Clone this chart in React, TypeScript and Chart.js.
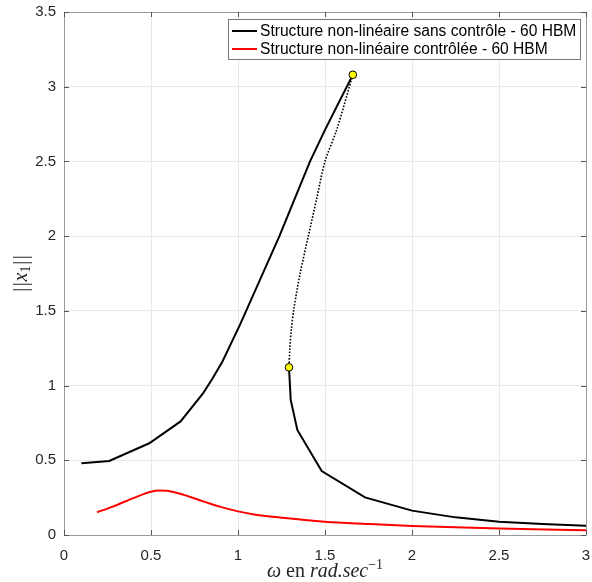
import React, { useEffect, useRef } from "react";
import { Chart, registerables } from "chart.js";

Chart.register(...registerables);

// ---- data ----
const omegaUpper = [0.1, 0.26, 0.49, 0.67, 0.8, 0.85, 0.91, 1.011, 1.238, 1.414, 1.5, 1.66];
const ampUpper = [0.48, 0.495, 0.614, 0.76, 0.95, 1.04, 1.16, 1.406, 2.0, 2.5, 2.711, 3.08];

const omegaUnstable = [1.66, 1.567, 1.5, 1.452, 1.404, 1.357, 1.322, 1.306, 1.298, 1.293];
const ampUnstable = [3.08, 2.711, 2.5, 2.25, 2.0, 1.75, 1.52, 1.37, 1.25, 1.122];

const omegaLower = [1.293, 1.303, 1.341, 1.481, 1.73, 2.0, 2.25, 2.5, 2.75, 3.0];
const ampLower = [1.122, 0.904, 0.703, 0.428, 0.252, 0.163, 0.118, 0.089, 0.073, 0.062];

const omegaCtrl = [0.19, 0.28, 0.42, 0.5, 0.55, 0.63, 0.8, 0.9, 1.0, 1.1, 1.24, 1.5, 1.74, 2.0, 2.5, 3.0];
const ampCtrl = [0.152, 0.19, 0.257, 0.29, 0.297, 0.288, 0.225, 0.188, 0.158, 0.136, 0.117, 0.089, 0.074, 0.06, 0.043, 0.031];

const omegaFold = [1.66, 1.293];
const ampFold = [3.08, 1.122];

const legendLabels = [
  "Structure non-linéaire sans contrôle - 60 HBM",
  "Structure non-linéaire contrôlée - 60 HBM",
];
const legendColors = ["#000000", "#ff0000"];

const xMin = 0, xMax = 3, xStep = 0.5;
const yMin = 0, yMax = 3.5, yStep = 0.5;

const pts = (xs: number[], ys: number[]) => xs.map((x, i) => ({ x, y: ys[i] }));

const SANS = "'Liberation Sans', Arial, Helvetica, sans-serif";
const SERIF = "'Liberation Serif', 'Times New Roman', serif";

const framePlugin = {
  id: "frame",
  afterDatasetsDraw(chart: any) {
    const { ctx, chartArea: a, scales } = chart;
    const xs = scales.x, ys = scales.y;
    ctx.save();
    // box
    ctx.strokeStyle = "#9a9a9a";
    ctx.lineWidth = 1;
    ctx.beginPath();
    ctx.rect(Math.round(a.left) + 0.5, Math.round(a.top) + 0.5, Math.round(a.right - a.left), Math.round(a.bottom - a.top));
    ctx.stroke();
    // inward ticks
    ctx.strokeStyle = "#555555";
    ctx.beginPath();
    for (let v = xMin; v <= xMax + 1e-9; v += xStep) {
      const px = Math.round(xs.getPixelForValue(v)) + 0.5;
      ctx.moveTo(px, a.bottom);
      ctx.lineTo(px, a.bottom - 5);
      ctx.moveTo(px, a.top);
      ctx.lineTo(px, a.top + 5);
    }
    for (let v = yMin; v <= yMax + 1e-9; v += yStep) {
      const py = Math.round(ys.getPixelForValue(v)) + 0.5;
      ctx.moveTo(a.left, py);
      ctx.lineTo(a.left + 5, py);
      ctx.moveTo(a.right, py);
      ctx.lineTo(a.right - 5, py);
    }
    ctx.stroke();

    // legend
    const lx = 228, ly = 19, lw = 352, lh = 40;
    ctx.fillStyle = "#ffffff";
    ctx.fillRect(lx, ly, lw, lh);
    ctx.strokeStyle = "#7a7a7a";
    ctx.strokeRect(lx + 0.5, ly + 0.5, lw, lh);
    ctx.font = `15.6px ${SANS}`;
    ctx.textBaseline = "middle";
    ctx.textAlign = "left";
    legendLabels.forEach((lab, i) => {
      const yy = ly + 12 + i * 18;
      ctx.strokeStyle = legendColors[i];
      ctx.lineWidth = 2;
      ctx.beginPath();
      ctx.moveTo(lx + 4, yy);
      ctx.lineTo(lx + 29, yy);
      ctx.stroke();
      ctx.fillStyle = "#000000";
      ctx.fillText(lab, lx + 32, yy + 1);
    });

    // x axis title: ω en rad.sec^-1
    const base = 577;
    const parts: { t: string; f: string; dy: number }[] = [
      { t: "ω", f: `italic 20px ${SERIF}`, dy: 0 },
      { t: " en ", f: `20px ${SERIF}`, dy: 0 },
      { t: "rad.sec", f: `italic 20px ${SERIF}`, dy: 0 },
      { t: "−1", f: `14px ${SERIF}`, dy: -8 },
    ];
    let total = 0;
    parts.forEach((p) => {
      ctx.font = p.f;
      total += ctx.measureText(p.t).width;
    });
    let cx = (a.left + a.right) / 2 - total / 2;
    ctx.fillStyle = "#262626";
    ctx.textBaseline = "alphabetic";
    parts.forEach((p) => {
      ctx.font = p.f;
      ctx.fillText(p.t, cx, base + p.dy);
      cx += ctx.measureText(p.t).width;
    });

    // y axis title: ||x_1||
    ctx.translate(27, (a.top + a.bottom) / 2);
    ctx.rotate(-Math.PI / 2);
    const yparts: { t: string; f: string; dy: number; adv: number }[] = [
      { t: "|", f: `20px ${SERIF}`, dy: 0, adv: 5.6 },
      { t: "|", f: `20px ${SERIF}`, dy: 0, adv: 5.6 },
      { t: "x", f: `italic 20px ${SERIF}`, dy: 0, adv: 0 },
      { t: "1", f: `14px ${SERIF}`, dy: 3, adv: 0 },
      { t: "|", f: `20px ${SERIF}`, dy: 0, adv: 5.6 },
      { t: "|", f: `20px ${SERIF}`, dy: 0, adv: 5.6 },
    ];
    const advOf = (p: any) => {
      ctx.font = p.f;
      return p.adv || ctx.measureText(p.t).width;
    };
    total = 0;
    yparts.forEach((p) => { total += advOf(p); });
    cx = -total / 2;
    yparts.forEach((p) => {
      const w = advOf(p);
      const gw = ctx.measureText(p.t).width;
      ctx.fillText(p.t, cx + (w - gw) / 2, p.dy);
      cx += w;
    });
    ctx.restore();
  },
};

const fmt = (v: any) => String(Number(v));

export default function App() {
  const ref = useRef<HTMLCanvasElement | null>(null);
  useEffect(() => {
    document.body.style.margin = "0";
    if (!ref.current) return;
    const chart = new Chart(ref.current, {
      type: "scatter",
      data: {
        datasets: [
          {
            label: "fold",
            data: pts(omegaFold, ampFold),
            showLine: false,
            pointRadius: 3.8,
            pointBackgroundColor: "#ffff00",
            pointBorderColor: "#000000",
            pointBorderWidth: 1,
            order: 0,
          },
          {
            label: legendLabels[0],
            data: pts(omegaUpper, ampUpper),
            showLine: true,
            borderColor: "#000000",
            borderWidth: 2,
            pointRadius: 0,
            order: 1,
          },
          {
            label: "unstable",
            data: pts(omegaUnstable, ampUnstable),
            showLine: true,
            borderColor: "#000000",
            borderWidth: 1.6,
            borderDash: [1.6, 1.6],
            pointRadius: 0,
            tension: 0.3,
            order: 1,
          },
          {
            label: "lower",
            data: pts(omegaLower, ampLower),
            showLine: true,
            borderColor: "#000000",
            borderWidth: 2,
            pointRadius: 0,
            order: 1,
          },
          {
            label: legendLabels[1],
            data: pts(omegaCtrl, ampCtrl),
            showLine: true,
            borderColor: "#ff0000",
            borderWidth: 2,
            pointRadius: 0,
            cubicInterpolationMode: "monotone",
            order: 1,
          },
        ],
      },
      options: {
        animation: false,
        responsive: false,
        devicePixelRatio: 1,
        layout: { padding: { top: 12, right: 6, left: 0, bottom: 0 } },
        plugins: { legend: { display: false }, tooltip: { enabled: false } },
        scales: {
          x: {
            type: "linear",
            min: xMin,
            max: xMax,
            ticks: { stepSize: xStep, color: "#262626", font: { size: 15, family: SANS }, padding: 12, callback: fmt, maxRotation: 0 },
            grid: { color: "#e8e8e8", drawTicks: false },
            border: { display: false },
            afterFit: (s: any) => {
              s.height = 47;
              s.paddingLeft = 0;
              s.paddingRight = 0;
            },
          },
          y: {
            type: "linear",
            min: yMin,
            max: yMax,
            ticks: { stepSize: yStep, color: "#262626", font: { size: 15, family: SANS }, padding: 8, callback: fmt },
            grid: { color: "#e8e8e8", drawTicks: false },
            border: { display: false },
            afterFit: (s: any) => {
              s.width = 64;
              s.paddingTop = 0;
              s.paddingBottom = 0;
            },
          },
        },
      },
      plugins: [framePlugin],
    } as any);
    return () => chart.destroy();
  }, []);
  return (
    <div style={{ width: 592, height: 582 }}>
      <canvas ref={ref} width={592} height={582} style={{ display: "block" }} />
    </div>
  );
}
